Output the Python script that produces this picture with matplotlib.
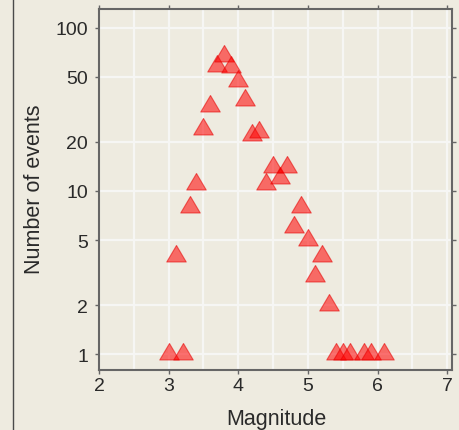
import matplotlib
matplotlib.use("Agg")
import matplotlib.pyplot as plt
from matplotlib.ticker import FixedLocator, NullFormatter, FixedFormatter

magnitude = [3.0, 3.1, 3.2, 3.3, 3.4, 3.5, 3.6, 3.7, 3.8, 3.9, 4.0, 4.1, 4.2, 4.3,
             4.4, 4.5, 4.6, 4.7, 4.8, 4.9, 5.0, 5.1, 5.2, 5.3, 5.4, 5.5, 5.6, 5.8,
             5.9, 6.1]
n_events = [1, 4, 1, 8, 11, 24, 33, 58, 67, 57, 47, 36, 22, 23,
            11, 14, 12, 14, 6, 8, 5, 3, 4, 2, 1, 1, 1, 1,
            1, 1]

x_ticks = [2, 3, 4, 5, 6, 7]
x_minor = [2.5, 3.5, 4.5, 5.5, 6.5]
y_ticks = [1, 2, 5, 10, 20, 50, 100]
y_tick_labels = ["1", "2", "5", "10", "20", "50", "100"]

plt.rcParams['font.family'] = ['Liberation Sans', 'DejaVu Sans']

bg = '#EEEBE0'
fig = plt.figure(figsize=(4.6, 4.31), dpi=100, facecolor=bg)
ax = fig.add_axes([99 / 460, 1 - 371 / 431, 353 / 460, 361 / 431])
ax.set_facecolor(bg)

ax.set_yscale('log')
ax.set_xlim(2.0, 7.07)
ax.set_ylim(0.8, 130)

ax.xaxis.set_major_locator(FixedLocator(x_ticks))
ax.xaxis.set_minor_locator(FixedLocator(x_minor))
ax.yaxis.set_major_locator(FixedLocator(y_ticks))
ax.yaxis.set_major_formatter(FixedFormatter(y_tick_labels))
ax.yaxis.set_minor_locator(FixedLocator([]))
ax.yaxis.set_minor_formatter(NullFormatter())

ax.grid(True, which='major', color='#F6F6F4', lw=1.6, zorder=0)
ax.grid(True, which='minor', axis='x', color='#F6F6F4', lw=1.6, zorder=0)
ax.set_axisbelow(True)

frame_col = '#666666'
for s in ax.spines.values():
    s.set_color(frame_col)
    s.set_linewidth(1.5)

ax.tick_params(which='both', direction='out', length=3, width=1, color=frame_col,
               top=True, right=True, labeltop=False, labelright=False,
               labelsize=14, labelcolor='#2a2a2a')
ax.tick_params(which='minor', length=0)
ax.tick_params(axis='x', pad=2)
ax.tick_params(axis='y', pad=5)

# triangle marker with centroid at the data point
h, w = 16.5, 19.5
verts = [(0, 2 * h / 3), (-w / 2, -h / 3), (w / 2, -h / 3), (0, 2 * h / 3)]
ms = (4 * h / 3) * 72 / 100
ax.plot(magnitude, n_events, linestyle='none', marker=verts, markersize=ms,
        markerfacecolor=(1, 0, 0, 0.55), markeredgecolor=(0.9, 0, 0, 0.55),
        markeredgewidth=0.8, zorder=3)

fig.text(276 / 460, 1 - 425 / 431, 'Magnitude', ha='center', va='baseline',
         fontsize=15.5, color='#2a2a2a')
fig.text(35 / 460, 1 - 189 / 431, 'Number of events', ha='center', va='center',
         rotation=90, fontsize=15.5, color='#2a2a2a')

fig.add_artist(plt.Line2D([13 / 460, 13 / 460], [0, 1], transform=fig.transFigure,
                          color='#4a4a4a', lw=1))

fig.savefig('out.png', dpi=100, facecolor=bg)
